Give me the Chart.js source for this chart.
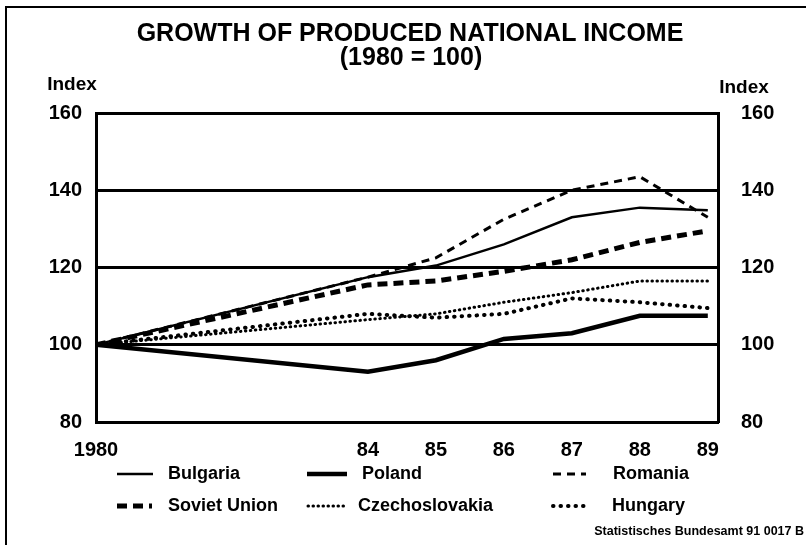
<!DOCTYPE html>
<html>
<head>
<meta charset="utf-8">
<script src="https://cdn.jsdelivr.net/npm/chart.js@4/dist/chart.umd.min.js"></script>
<style>
  html, body { margin: 0; padding: 0; background: #fff; }
  #wrap { width: 806px; height: 545px; position: relative; }
</style>
</head>
<body>
<div id="wrap"><canvas id="incomeChart"></canvas></div>
<script>
// values (index, 1980 = 100)
const years = [1980, 1984, 1985, 1986, 1987, 1988, 1989];
const xTickLabels = ["1980", "84", "85", "86", "87", "88", "89"];
const yTicks = [80, 100, 120, 140, 160];

const bulgaria = [100, 117.5, 120.5, 126, 133, 135.5, 134.8];
const poland = [100, 93, 96, 101.5, 103, 107.5, 107.5];
const romania = [100, 117.5, 122.5, 132.5, 140, 143.5, 133];
const sovietUnion = [100, 115.5, 116.5, 119, 122, 126.5, 129.5];
const czechoslovakia = [100, 106.5, 108, 111, 113.5, 116.5, 116.5];
const hungary = [100, 108, 107, 108, 112, 111, 109.5];

const FONT = "'Liberation Sans', Arial, Helvetica, sans-serif";

const toPoints = (vals) => vals.map((v, i) => ({ x: years[i], y: v }));

// legend slots: [sample start, sample end, text x, y]
const legendSlots = [
  [117, 153, 168, 474],
  [307, 347, 362, 474],
  [553, 586, 613, 474],
  [117, 152, 168, 506],
  [308, 345, 358, 506],
  [553, 590, 612, 506],
];

const decorations = {
  id: "decorations",
  beforeDraw(chart) {
    const ctx = chart.ctx;
    ctx.save();
    // outer frame (left and top edges only, as in the print)
    ctx.strokeStyle = "#000";
    ctx.lineWidth = 2;
    ctx.beginPath();
    ctx.moveTo(6, 545);
    ctx.lineTo(6, 7);
    ctx.lineTo(806, 7);
    ctx.stroke();
    ctx.restore();
  },
  afterDraw(chart) {
    const ctx = chart.ctx;
    ctx.save();
    ctx.fillStyle = "#000";
    ctx.textBaseline = "middle";
    ctx.textAlign = "center";
    ctx.font = "bold 25px " + FONT;
    ctx.fillText("GROWTH OF PRODUCED NATIONAL INCOME", 410, 34);
    ctx.fillText("(1980 = 100)", 411, 58);

    ctx.font = "bold 19px " + FONT;
    ctx.fillText("Index", 72, 85);
    ctx.fillText("Index", 744, 88);

    // legend
    chart.data.datasets.forEach((ds, i) => {
      const [x0, x1, tx, y] = legendSlots[i];
      ctx.beginPath();
      ctx.strokeStyle = "#000";
      ctx.lineWidth = ds.borderWidth;
      ctx.lineCap = ds.borderCapStyle || "butt";
      ctx.setLineDash(ds.borderDash || []);
      ctx.moveTo(x0, y);
      ctx.lineTo(x1, y);
      ctx.stroke();
      ctx.setLineDash([]);
      ctx.textAlign = "left";
      ctx.font = "bold 18px " + FONT;
      ctx.fillText(ds.label, tx, y);
    });

    ctx.textAlign = "right";
    ctx.font = "bold 12.5px " + FONT;
    ctx.fillText("Statistisches Bundesamt 91 0017 B", 804, 532);
    ctx.restore();
  },
};

const tickFont = { family: FONT, size: 20, weight: "bold" };

new Chart(document.getElementById("incomeChart"), {
  type: "line",
  data: {
    datasets: [
      { label: "Bulgaria", data: toPoints(bulgaria), borderWidth: 2.5 },
      { label: "Poland", data: toPoints(poland), borderWidth: 4.5 },
      { label: "Romania", data: toPoints(romania), borderWidth: 3, borderDash: [8, 6] },
      { label: "Soviet Union", data: toPoints(sovietUnion), borderWidth: 5, borderDash: [10, 6] },
      { label: "Czechoslovakia", data: toPoints(czechoslovakia), borderWidth: 3, borderDash: [0.5, 4.5], borderCapStyle: "round" },
      { label: "Hungary", data: toPoints(hungary), borderWidth: 4, borderDash: [0.5, 7], borderCapStyle: "round" },
    ].map((ds) => ({
      borderColor: "#000",
      backgroundColor: "#000",
      pointRadius: 0,
      tension: 0,
      fill: false,
      ...ds,
    })),
  },
  options: {
    responsive: true,
    maintainAspectRatio: false,
    animation: false,
    layout: { padding: { top: 113, left: 0, right: 0, bottom: 0 } },
    plugins: {
      legend: { display: false },
      title: { display: false },
      tooltip: { enabled: false },
    },
    scales: {
      x: {
        type: "linear",
        min: 1980,
        max: 1989.15,
        afterBuildTicks: (scale) => {
          scale.ticks = years.map((v) => ({ value: v }));
        },
        afterFit: (scale) => {
          scale.height = 123;
        },
        grid: { display: false },
        border: { display: true, color: "#000", width: 3 },
        ticks: {
          color: "#000",
          font: tickFont,
          padding: 8,
          maxRotation: 0,
          autoSkip: false,
          callback: (v) => xTickLabels[years.indexOf(v)],
        },
      },
      y: {
        position: "left",
        min: 80,
        max: 160,
        afterBuildTicks: (scale) => {
          scale.ticks = yTicks.map((v) => ({ value: v }));
        },
        afterFit: (scale) => {
          scale.width = 96;
        },
        grid: { color: "#000", lineWidth: 3, drawTicks: false },
        border: { display: true, color: "#000", width: 3 },
        ticks: { color: "#000", font: tickFont, padding: 14 },
      },
      y1: {
        position: "right",
        min: 80,
        max: 160,
        afterBuildTicks: (scale) => {
          scale.ticks = yTicks.map((v) => ({ value: v }));
        },
        afterFit: (scale) => {
          scale.width = 88;
        },
        grid: { display: false },
        border: { display: true, color: "#000", width: 3 },
        ticks: { color: "#000", font: tickFont, padding: 15 },
      },
    },
  },
  plugins: [decorations],
});
</script>
</body>
</html>
